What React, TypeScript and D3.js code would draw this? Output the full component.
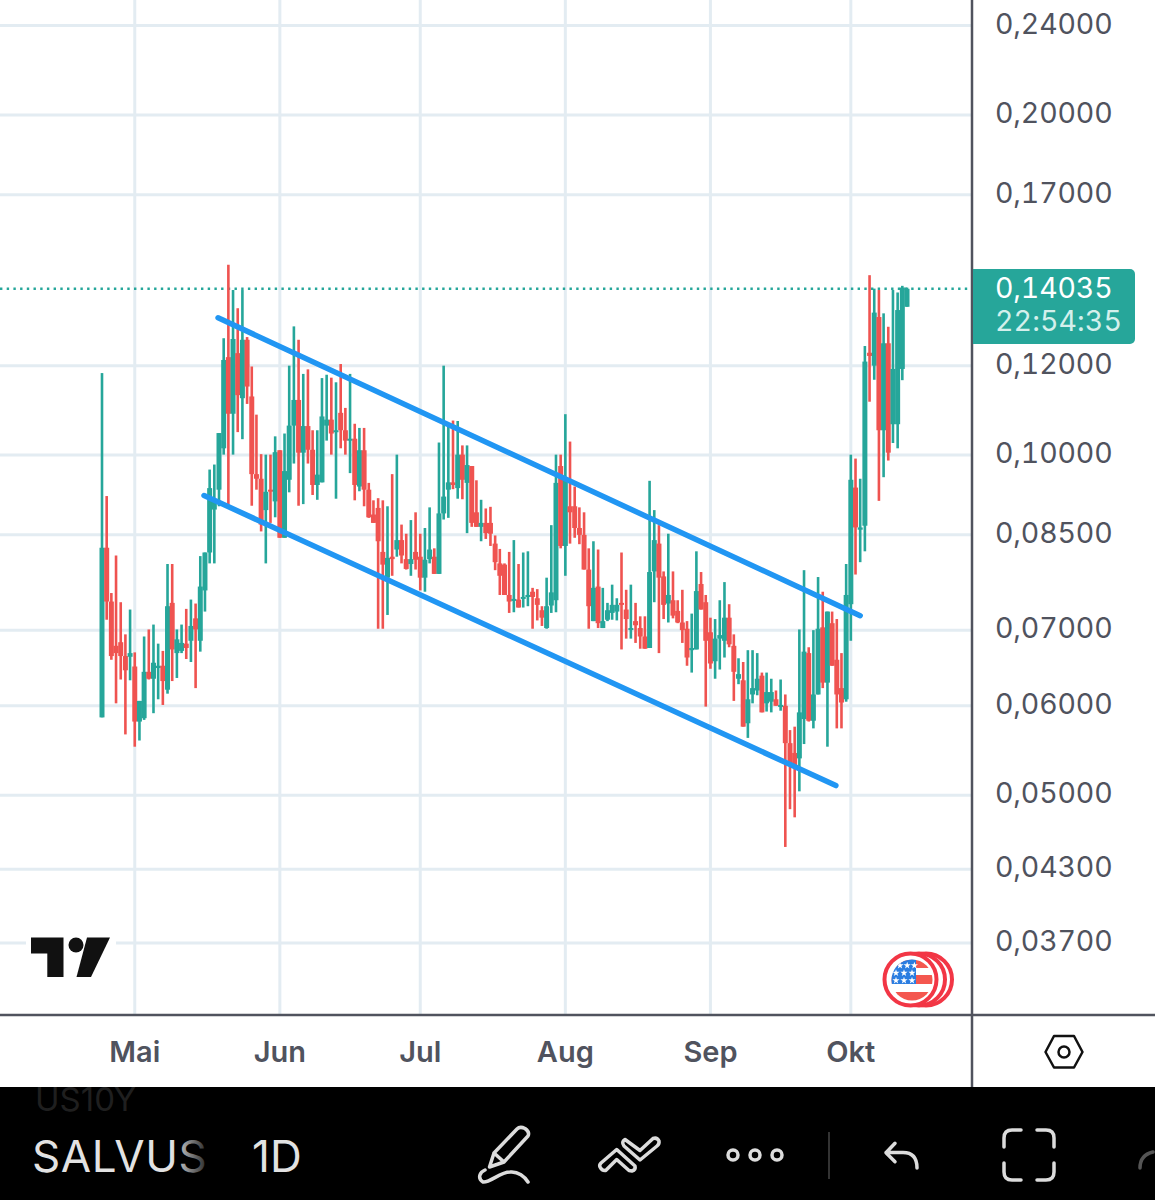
import React from 'react'
import * as d3 from 'd3'

const priceTicks = [0.24, 0.2, 0.17, 0.12, 0.1, 0.085, 0.07, 0.06, 0.05, 0.043, 0.037]
const priceGrid = [0.24, 0.2, 0.17, 0.12, 0.1, 0.085, 0.07, 0.06, 0.05, 0.043, 0.037]
const monthLabels = ['Mai', 'Jun', 'Jul', 'Aug', 'Sep', 'Okt']

const open = [
  .0586, .0828, .0742, .0678, .0683, .0664, .0663, .0650, .0581, .0585,
  .0643, .0634, .0648, .0651, .0620, .0740, .0668, .0671, .0681, .0685,
  .0717, .0685, .0759, .0820, .0895, .0932, .1014, .1221, .1088, .1231,
  .1123, .1265, .1127, .0962, .0953, .0894, .0932, .0910, .1010, .0845,
  .0951, .1062, .1119, .1005, .1061, .1011, .0941, .0946, .1062, .1075,
  .1049, .1090, .1052, .1030, .1034, .0938, .1010, .0932, .0886, .0898,
  .0821, .0779, .0813, .0825, .0841, .0809, .0801, .0821, .0813, .0779,
  .0809, .0813, .0785, .0888, .0932, .0946, .0935, .1001, .0945, .0978,
  .0890, .0864, .0871, .0871, .0835, .0802, .0800, .0752, .0744, .0745,
  .0747, .0749, .0757, .0747, .0729, .0703, .0736, .0744, .0978, .0831,
  .0901, .0901, .0862, .0850, .0792, .0713, .0765, .0703, .0715, .0725,
  .0727, .0740, .0730, .0701, .0713, .0703, .0691, .0675, .0789, .0835,
  .0781, .0739, .0744, .0728, .0711, .0702, .0672, .0673, .0769, .0741,
  .0697, .0657, .0688, .0685, .0718, .0678, .0634, .0632, .0579, .0614,
  .0619, .0638, .0603, .0605, .0608, .0599, .0600, .0556, .0545, .0539,
  .0584, .0668, .0582, .0614, .0704, .0629, .0710, .0659, .0622, .0608,
  .0738, .0936, .0859, .0866, .1232, .1200, .1325, .1052, .1256, .1065,
  .1065, .1192, .1353,
]
const high = [
  .1182, .0920, .0755, .0815, .0741, .0694, .0730, .0669, .0606, .0691,
  .0701, .0708, .0681, .0671, .0801, .0801, .0701, .0708, .0731, .0745,
  .0739, .0814, .0820, .0971, .0981, .1046, .1269, .1474, .1400, .1349,
  .1400, .1272, .1198, .1086, .1002, .1001, .1001, .1039, .1010, .1045,
  .1200, .1300, .1265, .1180, .1191, .1052, .1052, .1170, .1178, .1171,
  .1160, .1204, .1101, .1180, .1066, .1057, .1057, .0945, .0912, .0916,
  .0912, .0901, .0962, .1001, .0868, .0852, .0876, .0890, .0852, .0862,
  .0899, .0827, .1026, .1200, .1060, .1073, .1072, .1020, .1020, .0978,
  .0950, .0913, .0897, .0900, .0849, .0826, .0802, .0821, .0841, .0801,
  .0820, .0822, .0763, .0761, .0735, .0779, .0867, .1001, .1001, .1087,
  .1028, .0938, .0899, .0890, .0827, .0839, .0825, .0763, .0740, .0768,
  .0747, .0820, .0760, .0768, .0740, .0720, .0720, .0949, .0894, .0867,
  .0789, .0852, .0789, .0744, .0760, .0713, .0724, .0822, .0788, .0752,
  .0718, .0716, .0744, .0772, .0738, .0694, .0661, .0656, .0672, .0672,
  .0668, .0642, .0642, .0634, .0619, .0633, .0614, .0571, .0575, .0701,
  .0791, .0676, .0700, .0780, .0757, .0727, .0727, .0716, .0668, .0801,
  .1001, .0993, .0953, .1249, .1443, .1404, .1400, .1335, .1299, .1400,
  .1393, .1412, .1407,
]
const low = [
  .0586, .0715, .0659, .0603, .0633, .0566, .0632, .0552, .0559, .0583,
  .0633, .0591, .0608, .0601, .0615, .0631, .0635, .0668, .0660, .0656,
  .0622, .0670, .0727, .0802, .0802, .0901, .1001, .0898, .1001, .1048,
  .1033, .1110, .0902, .0932, .0856, .0802, .0871, .0881, .0845, .0845,
  .0927, .0983, .0902, .0905, .0983, .0922, .0913, .0946, .1030, .1001,
  .0915, .1014, .1001, .0964, .0912, .0929, .0901, .0880, .0871, .0702,
  .0702, .0722, .0782, .0813, .0802, .0792, .0782, .0792, .0759, .0757,
  .0802, .0785, .0785, .0877, .0880, .0933, .0915, .0914, .0853, .0864,
  .0864, .0839, .0843, .0831, .0791, .0752, .0752, .0725, .0726, .0733,
  .0733, .0735, .0702, .0714, .0706, .0702, .0725, .0726, .0827, .0782,
  .0835, .0845, .0834, .0792, .0702, .0713, .0703, .0703, .0713, .0715,
  .0714, .0673, .0688, .0688, .0682, .0674, .0674, .0675, .0741, .0668,
  .0716, .0711, .0717, .0710, .0682, .0651, .0642, .0673, .0730, .0599,
  .0647, .0634, .0646, .0662, .0676, .0606, .0627, .0575, .0562, .0603,
  .0613, .0592, .0593, .0592, .0600, .0594, .0450, .0486, .0478, .0504,
  .0555, .0581, .0573, .0614, .0622, .0552, .0651, .0573, .0573, .0605,
  .0685, .0784, .0804, .0822, .1115, .1166, .0911, .0956, .0989, .1025,
  .1014, .1165, .1353,
]
const close = [
  .0828, .0742, .0664, .0668, .0664, .0645, .0668, .0581, .0606, .0643,
  .0634, .0655, .0651, .0631, .0735, .0673, .0687, .0682, .0675, .0706,
  .0701, .0765, .0820, .0935, .0913, .1046, .1214, .1088, .1267, .1130,
  .1265, .1150, .0962, .0953, .0868, .0928, .0929, .1006, .0845, .0968,
  .1062, .1119, .1005, .1061, .1011, .0941, .0961, .1082, .1075, .1045,
  .1052, .1052, .1030, .1034, .0941, .1010, .0932, .0881, .0871, .0839,
  .0800, .0811, .0809, .0841, .0815, .0793, .0809, .0808, .0779, .0808,
  .0825, .0785, .0888, .0919, .0946, .0941, .1001, .0951, .0980, .0871,
  .0864, .0871, .0853, .0852, .0804, .0782, .0752, .0742, .0746, .0733,
  .0749, .0752, .0749, .0737, .0718, .0735, .0756, .0945, .0831, .0954,
  .0890, .0862, .0850, .0792, .0735, .0763, .0710, .0713, .0729, .0737,
  .0737, .0737, .0716, .0703, .0707, .0691, .0674, .0788, .0841, .0779,
  .0737, .0752, .0721, .0711, .0700, .0662, .0675, .0758, .0730, .0685,
  .0654, .0688, .0693, .0718, .0680, .0643, .0640, .0575, .0608, .0622,
  .0634, .0592, .0617, .0617, .0600, .0601, .0556, .0532, .0529, .0592,
  .0670, .0582, .0614, .0702, .0629, .0727, .0651, .0614, .0604, .0752,
  .0951, .0863, .0863, .1210, .1224, .1337, .1052, .1256, .1005, .1192,
  .1344, .1407, .14035,
]

// channel lines: [day index, price] at both ends
const upperChannel: [number, number][] = [[24.8, 0.1323], [162, 0.0721]]
const lowerChannel: [number, number][] = [[21.8, 0.0921], [156.8, 0.051]]
const lastPrice = 0.14035

const firstDay = new Date(Date.UTC(2024, 3, 24))
const dayOf = (i: number) => new Date(firstDay.getTime() + i * 864e5)

const green = '#26a69a'
const red = '#ef5350'
const gridColor = '#e3ecf2'
const axisColor = '#50535e'
const iconColor = '#dcdcdc'
const font = 'Inter, "Noto Sans", sans-serif'

const plotRight = 972
const plotBottom = 1015
const barTop = 1087

const x = d3.scaleUtc().domain([firstDay, dayOf(172)]).range([102, 907])
const y = d3.scaleLog().domain([0.2, 0.037]).range([115, 943])
const fmt = (v: number) => v.toFixed(5).replace('.', ',')
const channelPath = d3.line<[number, number]>().x(d => x(dayOf(d[0]))).y(d => y(d[1]))

const starRows = [965.5, 973, 980.5]
const starCols = [0, 8, 16]
const star = d3.symbol().type(d3.symbolStar).size(16)()
const tabular = { fontVariantNumeric: 'tabular-nums' }

const App = () => {
  const months = x.ticks(d3.utcMonth)
  return (
    <svg width={1155} height={1200} style={{ position: 'absolute', left: 0, top: 0, background: '#fff' }}>
      <defs>
        <linearGradient id="fade" gradientUnits="userSpaceOnUse" x1={172} x2={208} y1={0} y2={0}>
          <stop offset="0" stopColor="#e2e2e2" />
          <stop offset="1" stopColor="#222" />
        </linearGradient>
        <clipPath id="symbolClip"><rect x={0} y={1120} width={209} height={70} /></clipPath>
        <clipPath id="barClip"><rect x={0} y={barTop} width={1155} height={113} /></clipPath>
        <clipPath id="flagClip"><circle cx={912} cy={980} r={20.5} /></clipPath>
      </defs>

      {priceGrid.map(p => (
        <line key={p} x1={0} x2={plotRight} y1={y(p)} y2={y(p)} stroke={gridColor} strokeWidth={3} />
      ))}
      {months.map(m => (
        <line key={m.getTime()} x1={x(m)} x2={x(m)} y1={0} y2={plotBottom} stroke={gridColor} strokeWidth={3} />
      ))}

      <line x1={0} x2={plotRight} y1={y(lastPrice)} y2={y(lastPrice)} stroke={green} strokeWidth={2.5} strokeDasharray="2.4 4.3" />

      {open.map((o, i) => {
        const c = close[i]
        const col = c >= o ? green : red
        const cx = x(dayOf(i))
        const top = y(Math.max(o, c))
        const bottom = y(Math.min(o, c))
        return (
          <g key={i} fill={col}>
            <rect x={cx - 1.3} width={2.6} y={y(high[i])} height={y(low[i]) - y(high[i])} />
            <rect x={cx - 2.5} width={5} y={top} height={Math.max(bottom - top, 2)} />
          </g>
        )
      })}

      <path d={channelPath(upperChannel) || ''} fill="none" stroke="#2196f3" strokeWidth={5.5} strokeLinecap="round" />
      <path d={channelPath(lowerChannel) || ''} fill="none" stroke="#2196f3" strokeWidth={5.5} strokeLinecap="round" />

      {/* TradingView mark */}
      <rect x={26} y={932} width={90} height={50} fill="#fff" />
      <path d="M31,937.5 H63.5 V977 H47.3 V953.5 H31 Z" fill="#111" />
      <circle cx={76} cy={945} r={7.5} fill="#111" />
      <path d="M87,937.5 H110 L91,977 H76.5 Z" fill="#111" />

      {/* coin badge */}
      <circle cx={926} cy={979.5} r={26} fill="#fff" stroke="#f23645" strokeWidth={4} />
      <circle cx={919} cy={979.5} r={26} fill="#fff" stroke="#f23645" strokeWidth={4} />
      <circle cx={910.5} cy={979.5} r={26} fill="#fff" stroke="#f23645" strokeWidth={4} />
      <g clipPath="url(#flagClip)">
        <rect x={890} y={959} width={46} height={43} fill="#fff" />
        <rect x={890} y={959.5} width={46} height={8.5} fill="#f4574f" />
        <rect x={890} y={975} width={46} height={9} fill="#f4574f" />
        <rect x={890} y={992} width={46} height={9} fill="#f4574f" />
        <rect x={890} y={959} width={26} height={25} fill="#2a7de1" />
        {starRows.map(sy => starCols.map(dx => (
          <path key={sy + '-' + dx} d={star || ''} transform={`translate(${sy === 965.5 ? 900 + dx * 0.9 : 896 + dx},${sy})`} fill="#fff" />
        )))}
      </g>

      {/* axes */}
      <line x1={0} x2={1155} y1={plotBottom} y2={plotBottom} stroke={axisColor} strokeWidth={2.5} />
      <line x1={plotRight} x2={plotRight} y1={0} y2={barTop} stroke={axisColor} strokeWidth={2.5} />

      {priceTicks.map(p => (
        <text key={p} x={995} y={y(p) + 8} fontFamily={font} fontSize={28.5} fill={axisColor} style={tabular} letterSpacing={-0.15}>{fmt(p)}</text>
      ))}
      {months.map((m, i) => (
        <text key={m.getTime()} x={x(m)} y={1062} textAnchor="middle" fontFamily={font} fontSize={29} fontWeight={600} fill={axisColor}>{monthLabels[i]}</text>
      ))}

      {/* last price tag */}
      <path d="M973,269 H1130 a5,5 0 0 1 5,5 V339 a5,5 0 0 1 -5,5 H973 Z" fill={green} />
      <text x={995} y={298} fontFamily={font} fontSize={28.5} fill="#fff" style={tabular} letterSpacing={-0.15}>{fmt(lastPrice)}</text>
      <text x={995} y={331} fontFamily={font} fontSize={28.5} fill="#d4f0ec" style={tabular} letterSpacing={0.1}>22:54:35</text>

      {/* settings hexagon */}
      <path d="M1045.5,1052 L1054,1036 H1074 L1082.5,1052 L1074,1067.5 H1054 Z" fill="none" stroke="#111" strokeWidth={2.5} strokeLinejoin="round" />
      <circle cx={1064} cy={1052} r={5.5} fill="none" stroke="#111" strokeWidth={2.5} />

      {/* bottom toolbar */}
      <rect x={0} y={barTop} width={1155} height={113} fill="#000" />
      <g clipPath="url(#barClip)">
        <text x={35} y={1111} fontFamily={font} fontSize={33} fill="#1f1f1f">US10Y</text>
      </g>
      <g clipPath="url(#symbolClip)">
        <text x={32} y={1172} fontFamily={font} fontSize={44} letterSpacing={0.6} fill="url(#fade)">SALVUSD</text>
      </g>
      <text x={252} y={1172} fontFamily={font} fontSize={44} fill="#e2e2e2">1D</text>

      <g fill="none" stroke={iconColor} strokeWidth={3.5} strokeLinecap="round" strokeLinejoin="round">
        <path d="M489.5,1167 L494,1153 L517,1129 Q520,1126 525,1128.5 Q530,1132 528,1136 L504,1162 Z M494,1153 L504,1162" />
        <path d="M485,1170 C480,1172 477,1178 483,1182 C490,1183 500,1172 510,1172 C518,1171 525,1177 528,1182" />
        <path d="M616.7,1149.5 L635,1166 Q636,1170 632,1171 L629,1170.5 L616.7,1159.5 L605.7,1170.5 Q602,1171 600,1167 Q599,1165 601,1163 Z" />
        <path d="M625,1139.5 L640,1150.5 L653,1138.5 Q657,1137 659,1141 Q659.5,1144 657,1146 L640,1160 L624,1146 Q621,1142 625,1139.5 Z" />
        <circle cx={733} cy={1155} r={5} />
        <circle cx={755} cy={1155} r={5} />
        <circle cx={777} cy={1155} r={5} />
        <path d="M895,1143.3 L886,1152.7 L895,1161.7 M886,1152.5 H903 Q917,1152.5 917,1168" />
        <path d="M1021,1130 H1012 Q1004,1130 1004,1138 V1147 M1037,1130 H1046 Q1054,1130 1054,1138 V1147 M1004,1163 V1172 Q1004,1180 1012,1180 H1021 M1054,1163 V1172 Q1054,1180 1046,1180 H1037" />
      </g>
      <line x1={829} x2={829} y1={1132} y2={1179} stroke="#333" strokeWidth={2} />
      <path d="M1140,1168 Q1140,1155 1153,1152" fill="none" stroke="#555" strokeWidth={3.5} strokeLinecap="round" />
    </svg>
  )
}

export default App
